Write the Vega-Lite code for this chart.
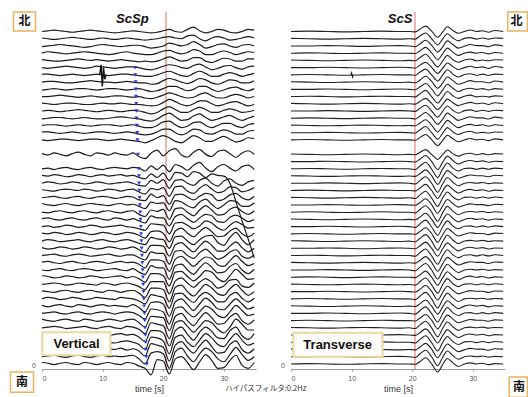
{
"$schema": "https://vega.github.io/schema/vega-lite/v6.json",
"background": "white",
"padding": {"left": 9, "top": 11, "right": 0, "bottom": 0},
"spacing": 35,
"bounds": "flush",
"config": {
  "view": {"stroke": null},
  "font": "Liberation Sans",
  "axisX": {"labelFontSize": 7, "labelColor": "#555", "titleFontSize": 9, "titleFontWeight": "normal", "titleColor": "#333", "tickSize": 2, "tickColor": "#999", "domainColor": "#999", "labelPadding": 3, "titlePadding": 3, "grid": false},
  "axisY": {"grid": false}
},
"datasets": {
  "LT": [{"i":1,"t":0},{"i":2,"t":1},{"i":3,"t":2},{"i":4,"t":3},{"i":5,"t":4},{"i":6,"t":5},{"i":7,"t":6},{"i":8,"t":7},{"i":9,"t":8},{"i":10,"t":9},{"i":11,"t":10},{"i":12,"t":11},{"i":13,"t":12},{"i":14,"t":13},{"i":15,"t":14},{"i":16,"t":15},{"i":17,"t":16},{"i":18,"t":17},{"i":19,"t":18},{"i":20,"t":19},{"i":21,"t":20},{"i":22,"t":21},{"i":23,"t":22},{"i":24,"t":23},{"i":25,"t":24},{"i":26,"t":25},{"i":27,"t":26},{"i":28,"t":27},{"i":29,"t":28},{"i":30,"t":29},{"i":31,"t":30},{"i":32,"t":31},{"i":33,"t":32},{"i":34,"t":33},{"i":35,"t":34},{"i":36,"t":35}],
  "RT": [{"i":1,"t":0},{"i":2,"t":3},{"i":3,"t":6},{"i":4,"t":9},{"i":5,"t":12},{"i":6,"t":15},{"i":7,"t":18},{"i":8,"t":19.5},{"i":9,"t":20.5},{"i":10,"t":21.3},{"i":11,"t":22.2},{"i":12,"t":23.2},{"i":13,"t":24.2},{"i":14,"t":25},{"i":15,"t":25.8},{"i":16,"t":26.7},{"i":17,"t":27.6},{"i":18,"t":28.6},{"i":19,"t":29.6},{"i":20,"t":30.6},{"i":21,"t":31.6},{"i":22,"t":32.6},{"i":23,"t":33.6},{"i":24,"t":35}],
  "L": [
{"v":[0,1,2,1,0,-1,0,1,2,1,0,-1,-2,-1,0,1,0,-1,-2,-1,1,3,0,-1,3,6,1,-2,0,3,2,-1,-2,0,3,2]},
{"v":[1,0,-1,0,1,2,1,0,-1,0,1,0,-1,0,1,0,-1,-2,-1,0,2,3,1,0,4,5,0,-3,1,3,1,-2,-1,1,3,1]},
{"v":[-1,0,1,2,1,0,-1,-2,-1,1,2,1,0,-1,0,1,1,-1,-3,-2,0,4,2,0,2,6,2,-3,-1,2,3,0,-2,1,2,0]},
{"v":[0,2,1,0,-1,0,1,2,1,0,-1,-2,-1,1,2,0,-1,-2,-2,0,3,4,1,-1,1,5,3,-2,-2,1,3,1,-2,0,2,1]},
{"v":[1,0,-1,-1,0,1,2,1,0,1,0,-1,0,1,0,-1,-2,-1,-2,-1,2,5,2,-1,0,4,4,-1,-3,0,3,2,-1,-1,2,2]},
{"v":[0,-1,0,1,2,1,0,-1,0,2,1,0,-1,0,1,1,0,-2,-3,-1,2,4,3,0,-1,3,5,1,-3,-1,2,3,0,-2,1,2]},
{"v":[1,1,0,-1,0,1,0,-1,0,1,0,-1,0,1,1,0,-1,-2,-2,0,3,5,2,-1,-2,2,5,2,-2,-2,1,3,1,-2,0,2]},
{"v":[0,1,1,0,-1,-1,0,1,2,1,0,0,-1,0,1,0,-1,-1,-3,-2,2,5,3,0,-2,1,5,3,-1,-3,0,3,2,-1,-1,2]},
{"v":[-1,0,1,0,-1,0,1,1,0,-1,0,1,1,0,-1,0,1,-1,-3,-2,1,4,4,1,-2,0,4,4,0,-3,-1,2,3,0,-2,1]},
{"v":[0,0,1,2,1,0,-1,0,1,0,-1,0,1,1,0,-1,0,-2,-3,-1,2,5,3,0,-2,-1,3,5,1,-2,-2,1,3,1,-2,0]},
{"v":[1,0,-1,0,1,1,0,-1,-1,0,1,0,0,1,0,-1,-1,-2,-3,-2,2,6,3,-1,-3,0,4,4,0,-3,-1,2,3,0,-3,-1]},
{"v":[0,1,0,-1,0,1,2,1,0,-1,0,1,0,-1,0,1,0,-2,-4,-2,3,6,2,-2,-2,2,5,2,-2,-2,1,3,1,-2,-1,1]},
{"v":[-1,0,1,1,0,-1,0,1,0,-1,-1,0,1,2,1,0,-1,-3,-4,-1,4,7,2,-3,-2,3,6,1,-3,-1,2,4,0,-3,0,3]},
{"v":[0,1,1,0,-1,0,1,0,-1,0,1,1,0,-1,0,1,-1,-3,-3,0,5,6,1,-3,-1,4,5,0,-3,0,3,3,-1,-3,1,3]},
{"v":[1,1,0,-1,0,1,0,-1,0,1,1,0,-1,0,1,0,-2,-3,-2,1,5,5,0,-3,0,5,4,-1,-2,1,4,2,-2,-2,2,3]},
{"v":[0,-1,0,1,1,0,-1,0,1,1,0,-1,0,1,0,-1,-2,-4,-1,3,6,3,-2,-4,1,6,3,-2,-2,2,5,1,-3,-1,3,2]},
{"v":[]},
{"v":[1,-1,2,0,-2,1,3,0,-2,2,1,-1,2,0,-1,2,-3,-6,2,6,-2,5,8,-1,-4,3,7,0,-3,4,6,1,-4,2,5,0]},
{"v":[]},
{"v":[0,1,-1,1,2,0,-1,1,2,0,-1,1,2,1,0,2,1,-3,4,-1,5,-4,6,3,-2,5,9,1,-4,3,6,1,-3,3,5,-1]},
{"v":[1,0,2,1,-1,0,2,1,-1,1,2,0,1,2,0,1,-2,-4,3,-2,4,-6,5,4,-1,6,4,-2,3,1,0,-10,-36,-62,-87,-113]},
{"v":[0,2,1,-1,0,2,1,-1,0,2,1,-1,0,1,2,0,-3,-4,4,0,5,-7,4,5,0,-3,4,7,0,-4,3,6,0,-3,2,4]},
{"v":[1,0,-1,1,2,1,0,2,1,-1,0,2,1,-1,1,2,-2,-5,3,1,4,-8,5,6,-1,-4,3,8,2,-3,-1,5,4,-2,0,4]},
{"v":[0,1,2,0,-1,1,2,0,-1,1,2,1,-1,0,2,1,-3,-4,5,0,3,-9,4,5,1,-3,2,6,4,-4,-2,4,6,0,-3,2]},
{"v":[2,0,-1,1,2,0,-1,1,2,1,0,-1,1,2,0,1,-2,-5,4,2,3,-8,6,4,-1,-4,4,8,1,-5,0,6,5,-2,-2,3]},
{"v":[0,-1,1,2,0,-1,1,2,0,-1,1,2,0,-1,1,2,-3,-6,3,1,4,-10,5,6,0,-5,3,9,3,-4,-3,4,7,1,-3,2]},
{"v":[1,2,0,-1,1,2,0,-1,1,2,0,-1,2,1,-1,1,-2,-5,5,2,2,-9,4,7,1,-4,2,7,5,-3,-4,3,6,2,-3,0]},
{"v":[0,1,-1,0,2,1,-1,0,2,1,-1,0,1,2,0,-1,-3,-5,4,3,2,-10,5,6,2,-3,1,8,5,-2,-5,2,7,3,-2,-1]},
{"v":[1,0,2,1,-1,0,2,1,-1,0,2,1,-1,0,2,1,-2,-6,3,4,1,-11,4,8,1,-4,3,9,3,-4,-3,4,8,0,-4,1]},
{"v":[0,2,1,-1,0,1,2,0,-1,1,2,0,-1,1,2,0,-3,-5,5,3,2,-10,6,7,0,-5,2,7,8,-2,-6,5,12,2,-5,2]},
{"v":[1,-1,0,2,1,-1,0,2,1,-1,0,2,1,-1,0,2,-2,-6,4,4,3,-11,5,8,1,-5,3,10,4,-4,-4,3,9,1,-5,0]},
{"v":[0,1,2,0,-1,1,2,1,-1,0,1,2,0,-1,1,1,-3,-6,5,3,3,-12,6,7,0,-4,4,9,2,-5,-2,5,8,-1,-4,1]},
{"v":[1,2,0,-1,1,2,0,-1,1,2,1,-1,1,2,0,1,-2,-7,4,4,2,-12,5,9,2,-5,2,8,6,-3,-5,3,10,2,-4,-1]},
{"v":[0,-1,1,2,0,-1,1,2,1,-1,0,1,2,0,-1,2,-3,-6,6,3,3,-13,6,8,0,-6,3,10,4,-4,-3,5,9,0,-5,1]},
{"v":[2,1,-1,0,2,1,-1,0,2,1,-1,0,1,2,-1,1,-2,-7,5,5,2,-12,7,8,1,-5,1,9,7,-2,-6,2,11,4,-3,-2]},
{"v":[0,1,2,1,-1,0,2,1,0,-1,2,1,-1,1,2,0,-3,-7,4,4,4,-13,5,9,2,-4,3,8,3,-5,-2,6,7,-2,-4,2]},
{"v":[1,0,-1,1,2,0,-1,1,2,0,-1,2,1,-1,1,2,-2,-8,5,5,3,-14,6,9,0,-6,2,10,5,-3,-5,4,10,2,-5,0]},
{"v":[0,2,1,-1,0,2,1,-1,0,2,1,0,-1,2,1,0,-3,-7,6,4,2,-13,7,8,1,-5,4,9,4,-4,-4,5,9,1,-4,1]},
{"v":[1,-1,1,2,0,-1,2,1,-1,1,2,0,1,0,-1,2,-2,-8,5,6,3,-14,6,10,2,-6,3,11,5,-4,-5,3,10,3,-4,-1]},
{"v":[0,1,2,0,-1,1,2,0,-1,1,2,1,-1,1,2,1,-3,-8,6,5,2,-15,7,9,1,-5,2,10,6,-3,-6,2,11,4,-3,-1]},
{"v":[2,0,-1,1,2,0,-1,2,1,-1,0,2,1,-1,1,2,-3,-9,6,5,4,-14,6,10,0,-7,3,11,4,-5,-4,5,10,0,-5,1]},
{"v":[0,1,2,1,-1,0,1,2,0,-1,1,2,0,-1,2,1,-2,-8,7,5,3,-15,7,10,2,-6,2,10,7,-2,-7,1,12,5,-3,-3]},
{"v":[1,0,-1,1,2,1,0,-1,1,2,0,-1,1,2,0,1,-3,-9,6,6,3,-15,6,11,1,-7,4,11,5,-4,-5,6,11,-1,-6,2]},
{"v":[0,2,1,-1,0,2,1,0,-1,2,1,0,-1,1,2,0,-3,-10,7,6,2,-16,7,10,0,-6,3,12,6,-3,-6,4,12,3,-4,-1]},
{"v":[1,-1,1,2,0,-1,2,1,-1,0,2,1,0,2,-1,1,-2,-9,8,6,3,-16,6,11,2,-5,5,13,4,-5,-4,7,12,0,-5,1]},
{"v":[0,1,2,0,-1,1,2,0,-1,1,2,0,1,0,1,2,-3,-10,5,7,4,-16,7,12,1,-7,4,12,7,-3,-7,3,13,3,-5,0]},
{"v":[2,1,-1,1,2,0,-1,2,1,-1,1,2,0,-1,2,1,-3,-6,-15,6,4,-14,7,10,2,-8,3,13,5,-6,-5,5,12,-2,-6,2]}
  ],
  "R": [
{"v":[0,0.5,0,-0.5,0,0.5,0,0,-0.5,3.5,7.5,0.5,-8,-1,6.5,1.5,-2.5,0,2,0,1,-1,1.5,0]},
{"v":[0.5,0,-0.5,0,0.5,0,-0.5,0,-0.5,4,8,0,-8.5,-0.5,7,1,-3,0.5,1.5,-0.5,1,-0.5,1,0.5]},
{"v":[0,0,0.5,0,-0.5,0,0.5,0,-1,3,8,1,-8.5,-1.5,7,2,-3,-0.5,2,0.5,0.5,-1,1.5,0]},
{"v":[0,0.5,0,-0.5,0,0.5,0,0,-0.5,3.5,8,0.5,-9,-1,7,1.5,-3,0,1.5,0,1,-1,1,0]},
{"v":[0.5,0,-0.5,0,0.5,0,-0.5,0,-0.5,4,8.5,0,-9,-1,7,1,-2.5,0.5,2,-0.5,0.5,-0.5,1,0.5]},
{"v":[0,0,0.5,0,-0.5,0,0.5,0,-0.5,3.5,7.5,0.5,-8,-1,6.5,1.5,-2.5,0,2,0,1,-1,1.5,0]},
{"v":[0,0.5,0,-0.5,0,0.5,0,0,-0.5,4,8,0,-8.5,-0.5,7,1,-3,0.5,1.5,-0.5,1,-0.5,1,0.5]},
{"v":[0.5,0,-0.5,0,0.5,0,-0.5,0,-1,3,8,1,-8.5,-1.5,7,2,-3,-0.5,2,0.5,0.5,-1,1.5,0]},
{"v":[0,0,0.5,0,-0.5,0,0.5,0,-0.5,3.5,8,0.5,-9,-1,7,1.5,-3,0,1.5,0,1,-1,1,0]},
{"v":[0,0.5,0,-0.5,0,0.5,0,0,-0.5,4,8.5,0,-9,-1,7,1,-2.5,0.5,2,-0.5,0.5,-0.5,1,0.5]},
{"v":[0.5,0,-0.5,0,0.5,0,-0.5,0,-0.5,3.5,7.5,0.5,-8,-1,6.5,1.5,-2.5,0,2,0,1,-1,1.5,0]},
{"v":[0,0,0.5,0,-0.5,0,0.5,0,-0.5,4,8,0,-8.5,-0.5,7,1,-3,0.5,1.5,-0.5,1,-0.5,1,0.5]},
{"v":[0,0.5,0,-0.5,0,0.5,0,0,-1,3,8,1,-8.5,-1.5,7,2,-3,-0.5,2,0.5,0.5,-1,1.5,0]},
{"v":[0.5,0,-0.5,0,0.5,0,-0.5,0,-0.5,3.5,8,0.5,-9,-1,7,1.5,-3,0,1.5,0,1,-1,1,0]},
{"v":[0,0,0.5,0,-0.5,0,0.5,0,-0.5,4,8.5,0,-9,-1,7,1,-2.5,0.5,2,-0.5,0.5,-0.5,1,0.5]},
{"v":[0,0.5,0,-0.5,0,0.5,0,0,-0.5,3.5,7.5,0.5,-8,-1,6.5,1.5,-2.5,0,2,0,1,-1,1.5,0]},
{"v":[]},
{"v":[0.5,0,-0.5,0,0.5,0,-0.5,0,-0.5,3,6.5,0,-7,-0.5,6,1,-2.5,0.5,1.5,-0.5,1,-0.5,1,0.5]},
{"v":[0,0,0.5,0,-0.5,0,0.5,0,-0.5,3.5,8.5,0,-11,-1,7.5,1.5,-3.5,0,1.5,0,1,-1,0.5,0]},
{"v":[0,0.5,0,-0.5,0,0.5,0,0,-1,4,9,-0.5,-12,-0.5,8,1,-3,0.5,1,-0.5,1,-0.5,1,0]},
{"v":[0.5,0,-0.5,0,0.5,0,-0.5,0,-0.5,3.5,8.5,0.5,-11.5,-1.5,7.5,2,-3,-0.5,1.5,0.5,0.5,-1,1,0.5]},
{"v":[0,0,0.5,0,-0.5,0,0.5,0,-1,4,9,0,-12.5,-1,8,1.5,-3.5,0,1,0,1,-0.5,0.5,0]},
{"v":[0,0.5,0,-0.5,0,0.5,0,0,-0.5,3.5,8.5,0,-11,-1,7.5,1.5,-3.5,0,1.5,0,1,-1,0.5,0]},
{"v":[0.5,0,-0.5,0,0.5,0,-0.5,0,-1,4,9,-0.5,-12,-0.5,8,1,-3,0.5,1,-0.5,1,-0.5,1,0]},
{"v":[0,0,0.5,0,-0.5,0,0.5,0,-0.5,3.5,8.5,0.5,-11.5,-1.5,7.5,2,-3,-0.5,1.5,0.5,0.5,-1,1,0.5]},
{"v":[0,0.5,0,-0.5,0,0.5,0,0,-1,4,9,0,-12.5,-1,8,1.5,-3.5,0,1,0,1,-0.5,0.5,0]},
{"v":[0.5,0,-0.5,0,0.5,0,-0.5,0,-0.5,3.5,8.5,0,-11,-1,7.5,1.5,-3.5,0,1.5,0,1,-1,0.5,0]},
{"v":[0,0,0.5,0,-0.5,0,0.5,0,-1,4,9,-0.5,-12,-0.5,8,1,-3,0.5,1,-0.5,1,-0.5,1,0]},
{"v":[0,0.5,0,-0.5,0,0.5,0,0,-0.5,3.5,8.5,0.5,-11.5,-1.5,7.5,2,-3,-0.5,1.5,0.5,0.5,-1,1,0.5]},
{"v":[0.5,0,-0.5,0,0.5,0,-0.5,0,-1,4,9,0,-12.5,-1,8,1.5,-3.5,0,1,0,1,-0.5,0.5,0]},
{"v":[0,0,0.5,0,-0.5,0,0.5,0,-0.5,3.5,8.5,0,-11,-1,7.5,1.5,-3.5,0,1.5,0,1,-1,0.5,0]},
{"v":[0,0.5,0,-0.5,0,0.5,0,0,-1,4,9,-0.5,-12,-0.5,8,1,-3,0.5,1,-0.5,1,-0.5,1,0]},
{"v":[0.5,0,-0.5,0,0.5,0,-0.5,0,-0.5,3.5,8.5,0.5,-11.5,-1.5,7.5,2,-3,-0.5,1.5,0.5,0.5,-1,1,0.5]},
{"v":[0,0,0.5,0,-0.5,0,0.5,0,-1,4,9,0,-12.5,-1,8,1.5,-3.5,0,1,0,1,-0.5,0.5,0]},
{"v":[0,0.5,0,-0.5,0,0.5,0,0,-0.5,3.5,8.5,0,-11,-1,7.5,1.5,-3.5,0,1.5,0,1,-1,0.5,0]},
{"v":[0.5,0,-0.5,0,0.5,0,-0.5,0,-1,4,9,-0.5,-12,-0.5,8,1,-3,0.5,1,-0.5,1,-0.5,1,0]},
{"v":[0,0,0.5,0,-0.5,0,0.5,0,-0.5,3.5,8.5,0.5,-11.5,-1.5,7.5,2,-3,-0.5,1.5,0.5,0.5,-1,1,0.5]},
{"v":[0,0.5,0,-0.5,0,0.5,0,0,-1,4,9,0,-12.5,-1,8,1.5,-3.5,0,1,0,1,-0.5,0.5,0]},
{"v":[0.5,0,-0.5,0,0.5,0,-0.5,0,-0.5,3.5,8.5,0,-11,-1,7.5,1.5,-3.5,0,1.5,0,1,-1,0.5,0]},
{"v":[0,0,0.5,0,-0.5,0,0.5,0,-1,4,9,-0.5,-12,-0.5,8,1,-3,0.5,1,-0.5,1,-0.5,1,0]},
{"v":[0,0.5,0,-0.5,0,0.5,0,0,-0.5,3.5,8.5,0.5,-11.5,-1.5,7.5,2,-3,-0.5,1.5,0.5,0.5,-1,1,0.5]},
{"v":[0.5,0,-0.5,0,0.5,0,-0.5,0,-1,4,9,0,-12.5,-1,8,1.5,-3.5,0,1,0,1,-0.5,0.5,0]},
{"v":[0,0,0.5,0,-0.5,0,0.5,0,-0.5,3.5,8.5,0,-11,-1,7.5,1.5,-3.5,0,1.5,0,1,-1,0.5,0]},
{"v":[0,0.5,0,-0.5,0,0.5,0,0,-1,4,9,-0.5,-12,-0.5,8,1,-3,0.5,1,-0.5,1,-0.5,1,0]},
{"v":[0.5,0,-0.5,0,0.5,0,-0.5,0,-0.5,3.5,8.5,0.5,-11.5,-1.5,7.5,2,-3,-0.5,1.5,0.5,0.5,-1,1,0.5]},
{"v":[0,0,0.5,0,-0.5,0,0.5,0,-1,4,9,0,-12.5,-1,8,1.5,-3.5,0,1,0,1,-0.5,0.5,0]},
{"v":[0,0.5,0,-0.5,0,0.5,0,0,-0.5,3.5,8.5,0,-11,-1,7.5,1.5,-3.5,0,1.5,0,1,-1,0.5,0]}
  ],
  "BM": [{"k":6,"t":15.35},{"k":7,"t":15.4},{"k":8,"t":15.45},{"k":9,"t":15.5},{"k":10,"t":15.5},{"k":11,"t":15.55},{"k":12,"t":15.6},{"k":13,"t":15.6},{"k":14,"t":15.65},{"k":15,"t":15.7},{"k":16,"t":15.75},{"k":18,"t":15.85},{"k":20,"t":15.95},{"k":21,"t":16},{"k":22,"t":16},{"k":23,"t":16.05},{"k":24,"t":16.1},{"k":25,"t":16.15},{"k":26,"t":16.2},{"k":27,"t":16.25},{"k":28,"t":16.3},{"k":29,"t":16.35},{"k":30,"t":16.4},{"k":31,"t":16.45},{"k":32,"t":16.5},{"k":33,"t":16.55},{"k":34,"t":16.6},{"k":35,"t":16.65},{"k":36,"t":16.7},{"k":37,"t":16.75},{"k":38,"t":16.8},{"k":39,"t":16.85},{"k":40,"t":16.9},{"k":41,"t":16.95},{"k":42,"t":17},{"k":43,"t":17.05},{"k":44,"t":17.1},{"k":45,"t":17.15},{"k":46,"t":17.2},{"k":47,"t":17.3}]
},
"hconcat": [
 {
  "width": 214, "height": 357,
  "resolve": {"scale": {"y": "independent"}},
  "layer": [
   {"data": {"values": [{"t": 20.45}]}, "mark": {"type": "rule", "stroke": "#e06a6a", "strokeWidth": 1},
    "encoding": {"x": {"field": "t", "type": "quantitative", "scale": {"domain": [0, 35.3], "nice": false, "zero": false}, "axis": {"values": [0, 10, 20, 30], "title": "time [s]"}}}},
   {"layer": [
     {"data": {"name": "L"},
      "transform": [
        {"window": [{"op": "row_number", "as": "k"}]},
        {"flatten": ["v"], "as": ["a"]},
        {"window": [{"op": "row_number", "as": "i"}], "groupby": ["k"]},
        {"lookup": "i", "from": {"data": {"name": "LT"}, "key": "i", "fields": ["t"]}}
      ],
      "mark": {"type": "line", "stroke": "#1c1c1c", "strokeWidth": 1.2, "interpolate": "monotone"},
      "encoding": {
        "x": {"field": "t", "type": "quantitative", "axis": {"values": [0, 10, 20, 30], "title": "time [s]"}},
        "y": {"field": "k", "type": "ordinal", "scale": {"domain": [-1,0,1,2,3,4,5,6,7,8,9,10,11,12,13,14,15,16,17,18,19,20,21,22,23,24,25,26,27,28,29,30,31,32,33,34,35,36,37,38,39,40,41,42,43,44,45,46,47], "paddingInner": 0, "paddingOuter": 0.2}, "axis": {"labels": false, "ticks": false, "title": null, "domainColor": "#666"}},
        "yOffset": {"field": "a", "type": "quantitative", "scale": {"domain": [5, -5], "nice": false, "zero": false}},
        "detail": {"field": "k"},
        "order": {"field": "t", "type": "quantitative"}
      }},
     {"data": {"values": [{"k":7,"t":9.5,"a":0},{"k":7,"t":9.75,"a":14},{"k":7,"t":9.95,"a":-16},{"k":7,"t":10.15,"a":10},{"k":7,"t":10.35,"a":-6},{"k":7,"t":10.6,"a":0}]},
      "mark": {"type": "line", "stroke": "#111", "strokeWidth": 1.4},
      "encoding": {
        "x": {"field": "t", "type": "quantitative", "axis": {"values": [0, 10, 20, 30], "title": "time [s]"}},
        "y": {"field": "k", "type": "ordinal", "axis": null},
        "yOffset": {"field": "a", "type": "quantitative"},
        "order": {"field": "t", "type": "quantitative"}
      }},
     {"data": {"name": "BM"},
      "mark": {"type": "point", "shape": "triangle-down", "filled": true, "size": 16, "color": "#2a3bd4", "opacity": 1},
      "encoding": {
        "x": {"field": "t", "type": "quantitative", "axis": {"values": [0, 10, 20, 30], "title": "time [s]"}},
        "y": {"field": "k", "type": "ordinal", "axis": null}
      }}
   ]},
   {"layer": [
     {"data": {"values": [{"x1": -4.7, "x2": -1.07, "s1": -1.7, "s2": 0.93}, {"x1": -5.2, "x2": -1.4, "s1": 48.1, "s2": 50.9}]},
      "mark": {"type": "rect", "fill": "white", "stroke": "#e8b45c", "strokeWidth": 1.5},
      "encoding": {"x": {"field": "x1", "type": "quantitative", "axis": {"values": [0, 10, 20, 30], "title": "time [s]"}}, "x2": {"field": "x2"},
        "y": {"field": "s1", "type": "quantitative", "scale": {"domain": [-1.7, 47.7], "reverse": true, "nice": false, "zero": false}, "axis": null}, "y2": {"field": "s2"}}},
     {"data": {"values": [{"t": -2.9, "s": -0.4, "lab": "北"}, {"t": -3.3, "s": 49.5, "lab": "南"}]},
      "mark": {"type": "text", "font": "Noto Sans CJK JP", "fontSize": 12, "fontWeight": "bold", "color": "#111", "baseline": "middle", "align": "center"},
      "encoding": {"x": {"field": "t", "type": "quantitative", "axis": {"values": [0, 10, 20, 30], "title": "time [s]"}}, "y": {"field": "s", "type": "quantitative", "axis": null}, "text": {"field": "lab"}}},
     {"data": {"values": [{"x1": 0.05, "x2": 11.3, "s1": 42.6, "s2": 45.8}]},
      "mark": {"type": "rect", "fill": "#fffefa", "stroke": "#ecd7a4", "strokeWidth": 2},
      "encoding": {"x": {"field": "x1", "type": "quantitative", "axis": {"values": [0, 10, 20, 30], "title": "time [s]"}}, "x2": {"field": "x2"}, "y": {"field": "s1", "type": "quantitative", "axis": null}, "y2": {"field": "s2"}}},
     {"data": {"values": [{"t": 5.7, "s": 44.25, "lab": "Vertical"}]},
      "mark": {"type": "text", "fontSize": 13, "fontWeight": "bold", "color": "#111", "baseline": "middle", "align": "center"},
      "encoding": {"x": {"field": "t", "type": "quantitative", "axis": {"values": [0, 10, 20, 30], "title": "time [s]"}}, "y": {"field": "s", "type": "quantitative", "axis": null}, "text": {"field": "lab"}}},
     {"data": {"values": [{"t": 14.9, "s": -0.8, "lab": "ScSp"}]},
      "mark": {"type": "text", "fontSize": 13, "fontWeight": "bold", "fontStyle": "italic", "color": "#111", "baseline": "middle", "align": "center"},
      "encoding": {"x": {"field": "t", "type": "quantitative", "axis": {"values": [0, 10, 20, 30], "title": "time [s]"}}, "y": {"field": "s", "type": "quantitative", "axis": null}, "text": {"field": "lab"}}},
     {"data": {"values": [{"t": -1.0, "s": 47.3, "lab": "0"}]},
      "mark": {"type": "text", "fontSize": 7, "color": "#555", "baseline": "middle", "align": "right"},
      "encoding": {"x": {"field": "t", "type": "quantitative", "axis": {"values": [0, 10, 20, 30], "title": "time [s]"}}, "y": {"field": "s", "type": "quantitative", "axis": null}, "text": {"field": "lab"}}},
     {"data": {"values": [{"t": 36.9, "s": 50.5, "lab": "ハイパスフィルタ:0.2Hz"}]},
      "mark": {"type": "text", "font": "Noto Sans CJK JP", "fontSize": 7.5, "color": "#333", "baseline": "middle", "align": "center"},
      "encoding": {"x": {"field": "t", "type": "quantitative", "axis": {"values": [0, 10, 20, 30], "title": "time [s]"}}, "y": {"field": "s", "type": "quantitative", "axis": null}, "text": {"field": "lab"}}}
   ]}
  ]
 },
 {
  "width": 214, "height": 357,
  "resolve": {"scale": {"y": "independent"}},
  "layer": [
   {"data": {"values": [{"t": 20.45}]}, "mark": {"type": "rule", "stroke": "#e06a6a", "strokeWidth": 1},
    "encoding": {"x": {"field": "t", "type": "quantitative", "scale": {"domain": [0, 35.3], "nice": false, "zero": false}, "axis": {"values": [0, 10, 20, 30], "title": "time [s]"}}}},
   {"layer": [
     {"data": {"name": "R"},
      "transform": [
        {"window": [{"op": "row_number", "as": "k"}]},
        {"flatten": ["v"], "as": ["a"]},
        {"window": [{"op": "row_number", "as": "i"}], "groupby": ["k"]},
        {"lookup": "i", "from": {"data": {"name": "RT"}, "key": "i", "fields": ["t"]}}
      ],
      "mark": {"type": "line", "stroke": "#222", "strokeWidth": 1.1, "interpolate": "monotone"},
      "encoding": {
        "x": {"field": "t", "type": "quantitative", "axis": {"values": [0, 10, 20, 30], "title": "time [s]"}},
        "y": {"field": "k", "type": "ordinal", "scale": {"domain": [-1,0,1,2,3,4,5,6,7,8,9,10,11,12,13,14,15,16,17,18,19,20,21,22,23,24,25,26,27,28,29,30,31,32,33,34,35,36,37,38,39,40,41,42,43,44,45,46,47], "paddingInner": 0, "paddingOuter": 0.2}, "axis": {"labels": false, "ticks": false, "title": null, "domainColor": "#666"}},
        "yOffset": {"field": "a", "type": "quantitative", "scale": {"domain": [5, -5], "nice": false, "zero": false}},
        "detail": {"field": "k"},
        "order": {"field": "t", "type": "quantitative"}
      }},
     {"data": {"values": [{"k":7,"t":9.85,"a":0},{"k":7,"t":10,"a":3},{"k":7,"t":10.15,"a":-3},{"k":7,"t":10.3,"a":0}]},
      "mark": {"type": "line", "stroke": "#222", "strokeWidth": 1.1},
      "encoding": {
        "x": {"field": "t", "type": "quantitative", "axis": {"values": [0, 10, 20, 30], "title": "time [s]"}},
        "y": {"field": "k", "type": "ordinal", "axis": null},
        "yOffset": {"field": "a", "type": "quantitative"},
        "order": {"field": "t", "type": "quantitative"}
      }}
   ]},
   {"layer": [
     {"data": {"values": [{"x1": 35.75, "x2": 39.0, "s1": -1.7, "s2": 0.93}, {"x1": 36.0, "x2": 39.0, "s1": 48.8, "s2": 51.6}]},
      "mark": {"type": "rect", "fill": "white", "stroke": "#e8b45c", "strokeWidth": 1.5},
      "encoding": {"x": {"field": "x1", "type": "quantitative", "axis": {"values": [0, 10, 20, 30], "title": "time [s]"}}, "x2": {"field": "x2"},
        "y": {"field": "s1", "type": "quantitative", "scale": {"domain": [-1.7, 47.7], "reverse": true, "nice": false, "zero": false}, "axis": null}, "y2": {"field": "s2"}}},
     {"data": {"values": [{"t": 37.2, "s": -0.4, "lab": "北"}, {"t": 37.6, "s": 50.2, "lab": "南"}]},
      "mark": {"type": "text", "font": "Noto Sans CJK JP", "fontSize": 12, "fontWeight": "bold", "color": "#111", "baseline": "middle", "align": "center"},
      "encoding": {"x": {"field": "t", "type": "quantitative", "axis": {"values": [0, 10, 20, 30], "title": "time [s]"}}, "y": {"field": "s", "type": "quantitative", "axis": null}, "text": {"field": "lab"}}},
     {"data": {"values": [{"x1": 0.38, "x2": 15.1, "s1": 42.7, "s2": 46.0}]},
      "mark": {"type": "rect", "fill": "#fffefa", "stroke": "#ecd7a4", "strokeWidth": 2},
      "encoding": {"x": {"field": "x1", "type": "quantitative", "axis": {"values": [0, 10, 20, 30], "title": "time [s]"}}, "x2": {"field": "x2"}, "y": {"field": "s1", "type": "quantitative", "axis": null}, "y2": {"field": "s2"}}},
     {"data": {"values": [{"t": 7.7, "s": 44.35, "lab": "Transverse"}]},
      "mark": {"type": "text", "fontSize": 13, "fontWeight": "bold", "color": "#111", "baseline": "middle", "align": "center"},
      "encoding": {"x": {"field": "t", "type": "quantitative", "axis": {"values": [0, 10, 20, 30], "title": "time [s]"}}, "y": {"field": "s", "type": "quantitative", "axis": null}, "text": {"field": "lab"}}},
     {"data": {"values": [{"t": 18.0, "s": -0.8, "lab": "ScS"}]},
      "mark": {"type": "text", "fontSize": 13, "fontWeight": "bold", "fontStyle": "italic", "color": "#111", "baseline": "middle", "align": "center"},
      "encoding": {"x": {"field": "t", "type": "quantitative", "axis": {"values": [0, 10, 20, 30], "title": "time [s]"}}, "y": {"field": "s", "type": "quantitative", "axis": null}, "text": {"field": "lab"}}},
     {"data": {"values": [{"t": -1.0, "s": 47.3, "lab": "0"}]},
      "mark": {"type": "text", "fontSize": 7, "color": "#555", "baseline": "middle", "align": "right"},
      "encoding": {"x": {"field": "t", "type": "quantitative", "axis": {"values": [0, 10, 20, 30], "title": "time [s]"}}, "y": {"field": "s", "type": "quantitative", "axis": null}, "text": {"field": "lab"}}}
   ]}
  ]
 }
]
}
